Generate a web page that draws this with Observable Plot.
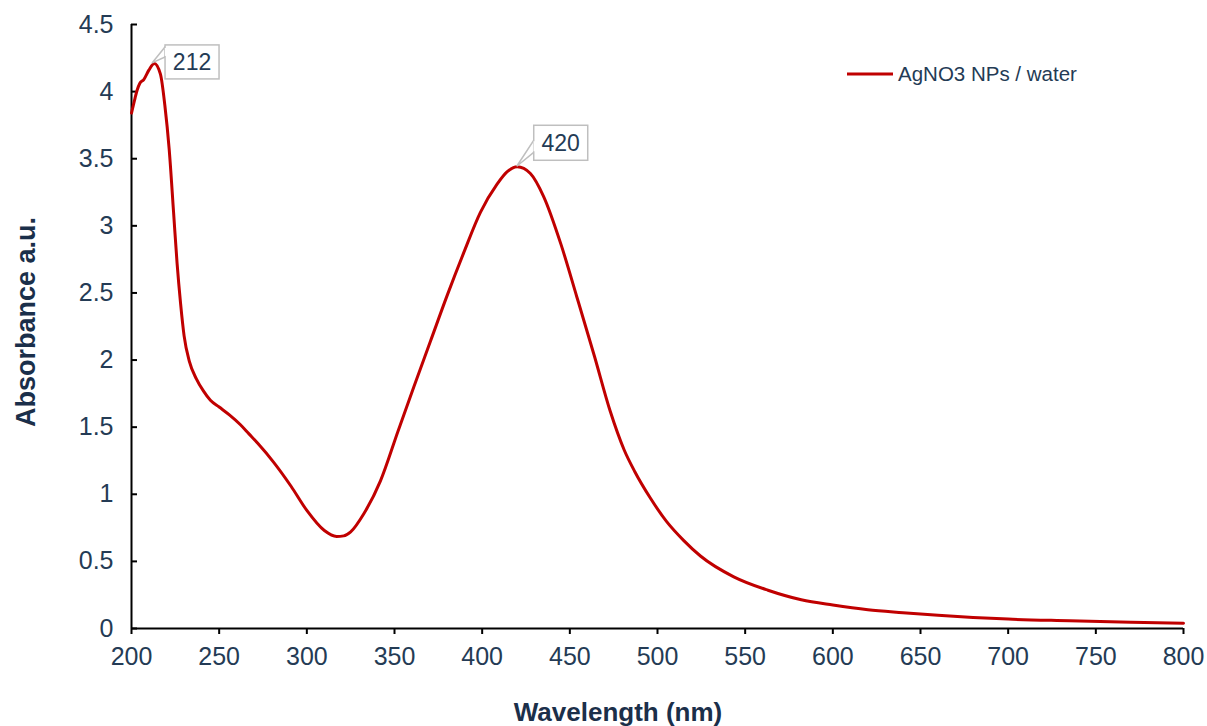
<!DOCTYPE html>
<html>
<head>
<meta charset="utf-8">
<script src="https://cdn.jsdelivr.net/npm/d3@7"></script>
<script src="https://cdn.jsdelivr.net/npm/@observablehq/plot@0.6"></script>
<style>
  html, body { margin: 0; padding: 0; background: #fff; }
  #chart svg { display: block; }
</style>
</head>
<body>
<div id="chart"></div>
<script>
// ---- Data ----
const wavelength = [200, 202, 203.2, 204.7, 207, 209.9, 213, 216.5, 219, 221.5, 224, 226, 228, 230, 233, 237, 241, 245, 250, 256, 262, 267, 272, 281, 291, 300, 310, 317, 321, 325, 332.5, 342, 352, 361, 370.5, 380, 389.5, 399, 408.5, 414, 420, 427.5, 435, 445, 454, 464, 473, 481, 487, 496, 505, 515, 524.5, 543.5, 563, 582, 600, 620, 640, 660, 680, 700, 735, 770, 800];
const absorbance = [3.84, 3.95, 4.01, 4.06, 4.09, 4.16, 4.21, 4.13, 3.9, 3.57, 3.1, 2.72, 2.42, 2.18, 1.99, 1.86, 1.77, 1.7, 1.65, 1.59, 1.52, 1.45, 1.38, 1.24, 1.06, 0.88, 0.73, 0.686, 0.69, 0.72, 0.855, 1.1, 1.47, 1.8, 2.14, 2.48, 2.8, 3.1, 3.31, 3.4, 3.44, 3.39, 3.22, 2.86, 2.47, 2.03, 1.62, 1.33, 1.17, 0.97, 0.8, 0.655, 0.54, 0.385, 0.285, 0.214, 0.175, 0.14, 0.118, 0.098, 0.082, 0.07, 0.058, 0.047, 0.04];
const peakWavelength = [212, 420];
const peakAbsorbance = [4.21, 3.44];
const peakLabels = ["212", "420"];
const xTicks = [200, 250, 300, 350, 400, 450, 500, 550, 600, 650, 700, 750, 800];
const yTicks = [0, 0.5, 1, 1.5, 2, 2.5, 3, 3.5, 4, 4.5];
const seriesName = "AgNO3 NPs / water";
const xTitle = "Wavelength (nm)";
const yTitle = "Absorbance a.u.";

// ---- Styling ----
const FONT = "'Liberation Sans', Arial, Helvetica, sans-serif";
const RED = "#c00000";
const TICK_COLOR = "#243b55";
const TITLE_COLOR = "#1b2f4a";
const calloutStyle = [
  {dx: 13, dy: -18, w: 54, h: 34, t0: 2, t1: 12},
  {dx: 17, dy: -41, w: 54, h: 35, t0: 15, t1: 27}
];

const table = wavelength.map((w, i) => ({w, a: absorbance[i]}));
const peaks = peakWavelength.map((w, i) => ({w, a: peakAbsorbance[i], label: peakLabels[i]}));

function overlay(index, scales, values, dims) {
  const g = d3.create("svg:g").attr("font-family", FONT);
  peaks.forEach((p, i) => {
    const s = calloutStyle[i];
    const px = scales.x(p.w), py = scales.y(p.a);
    const bx = px + s.dx, by = py + s.dy;
    g.append("path")
      .attr("d", `M${px},${py}L${bx},${by + s.t0}L${bx},${by + s.t1}Z`)
      .attr("fill", "#fff").attr("stroke", "#bfbfbf").attr("stroke-width", 1.5);
    g.append("rect")
      .attr("x", bx).attr("y", by).attr("width", s.w).attr("height", s.h)
      .attr("fill", "#fff").attr("stroke", "#bfbfbf").attr("stroke-width", 1.5);
    g.append("path")
      .attr("d", `M${bx + 0.75},${by + s.t0 + 1}V${by + s.t1 - 1}`)
      .attr("stroke", "#fff").attr("stroke-width", 2);
    g.append("text")
      .attr("x", bx + s.w / 2).attr("y", by + s.h / 2)
      .attr("dy", "0.35em").attr("text-anchor", "middle")
      .attr("font-size", 23).attr("fill", TICK_COLOR)
      .text(p.label);
  });
  // legend
  const lx = dims.marginLeft + 716, ly = dims.marginTop + 50;
  g.append("line")
    .attr("x1", lx).attr("x2", lx + 46).attr("y1", ly).attr("y2", ly)
    .attr("stroke", RED).attr("stroke-width", 3);
  g.append("text")
    .attr("x", lx + 51).attr("y", ly).attr("dy", "0.35em")
    .attr("text-anchor", "start")
    .attr("font-size", 20.5).attr("fill", TICK_COLOR)
    .text(seriesName);
  // axis titles
  const frameMidY = dims.marginTop + (dims.height - dims.marginTop - dims.marginBottom) / 2;
  const frameMidX = dims.marginLeft + (dims.width - dims.marginLeft - dims.marginRight) / 2;
  g.append("text")
    .attr("transform", `translate(${dims.marginLeft - 105},${frameMidY - 4}) rotate(-90)`)
    .attr("dy", "0.35em").attr("text-anchor", "middle")
    .attr("font-size", 27).attr("font-weight", "bold").attr("fill", TITLE_COLOR)
    .text(yTitle);
  g.append("text")
    .attr("x", frameMidX - 39).attr("y", dims.height - dims.marginBottom + 84)
    .attr("dy", "0.35em").attr("text-anchor", "middle")
    .attr("font-size", 26).attr("font-weight", "bold").attr("fill", TITLE_COLOR)
    .text(xTitle);
  return g.node();
}

const chart = Plot.plot({
  width: 1207,
  height: 726,
  marginLeft: 131,
  marginRight: 24,
  marginTop: 24,
  marginBottom: 98,
  style: {fontFamily: FONT, background: "#fff", color: TICK_COLOR},
  x: {domain: [200, 800], label: null},
  y: {domain: [0, 4.5], label: null},
  marks: [
    Plot.ruleY([0], {stroke: "#000", strokeWidth: 2}),
    Plot.ruleX([200], {stroke: "#000", strokeWidth: 2}),
    Plot.axisX({ticks: xTicks, tickSize: 6, tickPadding: 13, fontSize: 25, stroke: "#000", strokeWidth: 2, fill: TICK_COLOR, label: null, tickFormat: d => String(d)}),
    Plot.axisY({ticks: yTicks, tickSize: 0, tickPadding: 18, fontSize: 25, fill: TICK_COLOR, label: null, tickFormat: d => String(d)}),
    Plot.axisY({ticks: yTicks, tickSize: 6, dx: 6, stroke: "#000", strokeWidth: 2, label: null, tickFormat: () => ""}),
    Plot.line(table, {x: "w", y: "a", stroke: RED, strokeWidth: 3, curve: "monotone-x"}),
    overlay
  ]
});
document.getElementById("chart").appendChild(chart);
</script>
</body>
</html>
